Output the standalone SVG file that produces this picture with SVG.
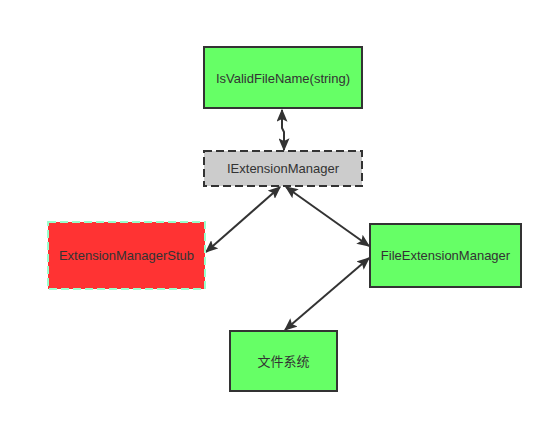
<svg xmlns="http://www.w3.org/2000/svg" width="553" height="424" viewBox="0 0 553 424">
<style>
text{font-family:"Liberation Sans",Arial,"Noto Sans CJK SC",sans-serif;font-size:13px;fill:#333;text-anchor:middle;dominant-baseline:central}
.g{fill:#66ff66;stroke:#333;stroke-width:2}
.c{fill:none;stroke:#333;stroke-width:2}
</style>
<defs>
<marker id="a" viewBox="0 0 10 10" refX="9" refY="5" markerWidth="13" markerHeight="11" markerUnits="userSpaceOnUse" orient="auto-start-reverse" preserveAspectRatio="none">
<path d="M0,0 L10,5 L0,10 L2,5 Z" fill="#333"/>
</marker>
</defs>
<rect width="553" height="424" fill="#fff"/>
<g id="connectors">
<path class="c" d="M282,110 L282,128 L284,132 L284,150" marker-start="url(#a)" marker-end="url(#a)"/>
<line class="c" x1="280" y1="187" x2="206" y2="252" marker-start="url(#a)" marker-end="url(#a)"/>
<line class="c" x1="286" y1="187" x2="369" y2="246" marker-start="url(#a)" marker-end="url(#a)"/>
<line class="c" x1="285" y1="330" x2="369" y2="258" marker-start="url(#a)" marker-end="url(#a)"/>
</g>
<g id="isvalid">
<rect class="g" x="204" y="47" width="158" height="61"/>
<text x="283" y="78">IsValidFileName(string)</text>
</g>
<g id="iextension">
<rect x="204" y="151" width="158" height="35" fill="#cccccc" stroke="#333" stroke-width="2" stroke-dasharray="8,4"/>
<text x="283" y="168.5">IExtensionManager</text>
</g>
<g id="stub">
<rect x="48" y="222" width="157" height="67" fill="#ff3333" stroke="#99ffcc" stroke-width="2" stroke-dasharray="8,4"/>
<text x="126.5" y="255.5">ExtensionManagerStub</text>
</g>
<g id="fileext">
<rect class="g" x="370" y="224" width="151" height="63"/>
<text x="445.5" y="255.5">FileExtensionManager</text>
</g>
<g id="fs">
<rect class="g" x="230" y="331" width="107" height="60"/>
<text x="283.5" y="361">文件系统</text>
</g>
</svg>
